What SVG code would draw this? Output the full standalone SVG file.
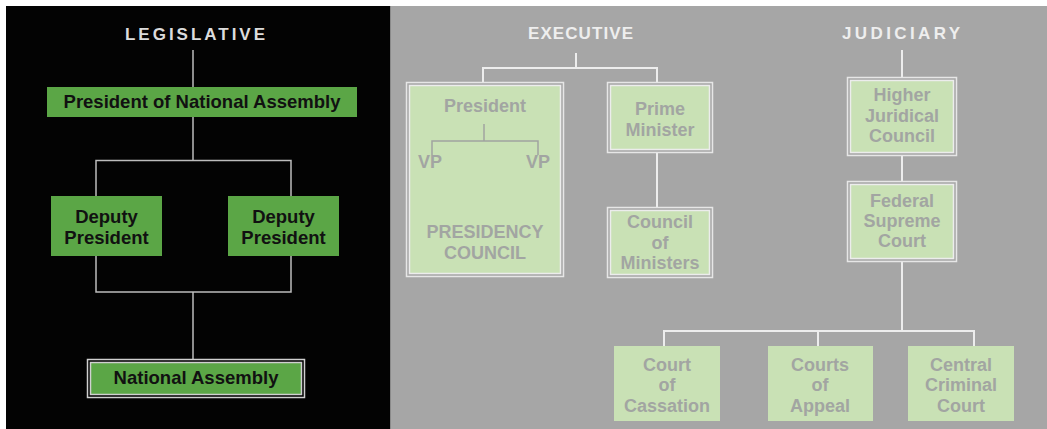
<svg xmlns="http://www.w3.org/2000/svg" width="1047" height="429" viewBox="0 0 1047 429">
<style>
  .title{font-family:"Liberation Sans",Arial,sans-serif;font-weight:900;font-size:17px;}
  .lt{font-family:"Liberation Sans",Arial,sans-serif;font-weight:bold;font-size:18.5px;fill:#111;text-anchor:middle;}
  .gt{font-family:"Liberation Sans",Arial,sans-serif;font-weight:bold;font-size:18px;fill:#a2a5a2;text-anchor:middle;}
  .gbox{fill:#c9e1b5;}
  .lbox{fill:#5ba646;}
  .outer{fill:none;stroke:#e6e6e6;stroke-width:1.5;}
  .inner{fill:#c9e1b5;stroke:#ececec;stroke-width:1.5;}
  .lline{fill:none;stroke:#bdbdbd;stroke-width:1.5;}
  .gline{fill:none;stroke:#ededed;stroke-width:2;}
  .bline{fill:none;stroke:#a0a3a0;stroke-width:1.5;}
</style>
<rect x="0" y="0" width="1047" height="429" fill="#ffffff"/>
<rect x="6" y="6" width="384" height="423" fill="#030303"/>
<rect x="390" y="6" width="657" height="423" fill="#a6a6a6"/>
<line x1="390.5" y1="6" x2="390.5" y2="429" stroke="#8a8a8a" stroke-width="1"/>

<text class="title" x="125" y="40" textLength="140" lengthAdjust="spacing" fill="#dcdcdc">LEGISLATIVE</text>
<text class="title" x="528" y="39" textLength="105" lengthAdjust="spacing" fill="#eeeeee">EXECUTIVE</text>
<text class="title" x="842" y="39" textLength="118" lengthAdjust="spacing" fill="#eeeeee">JUDICIARY</text>

<g id="connectors">
  <path class="lline" d="M193,50 V87"/>
  <path class="lline" d="M193,117 V160"/>
  <path class="lline" d="M96,196 V160.5 H291 V196"/>
  <path class="lline" d="M96,256 V292 H291 V256"/>
  <path class="lline" d="M193,292 V359"/>
  <path class="gline" d="M576,53 V68"/>
  <path class="gline" d="M483,82 V68 H657 V82"/>
  <path class="gline" d="M657,153 V207"/>
  <path class="gline" d="M902,50 V77"/>
  <path class="gline" d="M902,156 V181"/>
  <path class="gline" d="M902,262 V331"/>
  <path class="gline" d="M664,346 V331 H974 V346"/>
  <path class="gline" d="M818,331 V346"/>
</g>

<g id="president-national-assembly">
  <rect class="lbox" x="47" y="87" width="310" height="30"/>
  <text class="lt" x="202" y="108">President of National Assembly</text>
</g>
<g id="deputy-president-left">
  <rect class="lbox" x="51" y="196" width="111" height="60"/>
  <text class="lt" x="106.5" y="223">Deputy</text>
  <text class="lt" x="106.5" y="244">President</text>
</g>
<g id="deputy-president-right">
  <rect class="lbox" x="228" y="196" width="111" height="60"/>
  <text class="lt" x="283.5" y="223">Deputy</text>
  <text class="lt" x="283.5" y="244">President</text>
</g>
<g id="national-assembly">
  <rect x="87.5" y="359.5" width="217" height="38" fill="#000" stroke="#d0d0d0" stroke-width="1.5"/>
  <rect class="lbox" x="90.5" y="362.5" width="211" height="32" stroke="#d0d0d0" stroke-width="1.5"/>
  <text class="lt" x="196" y="384">National Assembly</text>
</g>

<g id="presidency-council">
  <rect class="outer" x="406.5" y="82.5" width="157" height="194"/>
  <rect class="inner" x="409.5" y="85.5" width="151" height="188"/>
  <text class="gt" x="485" y="112">President</text>
  <path class="bline" d="M484,124 V141"/>
  <path class="bline" d="M432,155 V141 H538 V155"/>
  <text class="gt" x="430" y="168">VP</text>
  <text class="gt" x="538" y="168">VP</text>
  <text class="gt" x="485" y="238">PRESIDENCY</text>
  <text class="gt" x="485" y="259">COUNCIL</text>
</g>
<g id="prime-minister">
  <rect class="outer" x="607.5" y="82.5" width="105" height="70"/>
  <rect class="inner" x="610.5" y="85.5" width="99" height="64"/>
  <text class="gt" x="660" y="115">Prime</text>
  <text class="gt" x="660" y="136">Minister</text>
</g>
<g id="council-of-ministers">
  <rect class="outer" x="607.5" y="207.5" width="105" height="70"/>
  <rect class="inner" x="610.5" y="210.5" width="99" height="64"/>
  <text class="gt" x="660" y="228">Council</text>
  <text class="gt" x="660" y="249">of</text>
  <text class="gt" x="660" y="269">Ministers</text>
</g>
<g id="higher-juridical-council">
  <rect class="outer" x="847.5" y="77.5" width="109" height="78"/>
  <rect class="inner" x="850.5" y="80.5" width="103" height="72"/>
  <text class="gt" x="902" y="101">Higher</text>
  <text class="gt" x="902" y="122">Juridical</text>
  <text class="gt" x="902" y="142">Council</text>
</g>
<g id="federal-supreme-court">
  <rect class="outer" x="847.5" y="181.5" width="109" height="80"/>
  <rect class="inner" x="850.5" y="184.5" width="103" height="74"/>
  <text class="gt" x="902" y="207">Federal</text>
  <text class="gt" x="902" y="227">Supreme</text>
  <text class="gt" x="902" y="247">Court</text>
</g>
<g id="court-of-cassation">
  <rect class="gbox" x="614" y="346" width="106" height="75"/>
  <text class="gt" x="667" y="371">Court</text>
  <text class="gt" x="667" y="391">of</text>
  <text class="gt" x="667" y="412">Cassation</text>
</g>
<g id="courts-of-appeal">
  <rect class="gbox" x="768" y="346" width="105" height="75"/>
  <text class="gt" x="820" y="371">Courts</text>
  <text class="gt" x="820" y="391">of</text>
  <text class="gt" x="820" y="412">Appeal</text>
</g>
<g id="central-criminal-court">
  <rect class="gbox" x="908" y="346" width="106" height="75"/>
  <text class="gt" x="961" y="371">Central</text>
  <text class="gt" x="961" y="391">Criminal</text>
  <text class="gt" x="961" y="412">Court</text>
</g>
</svg>
